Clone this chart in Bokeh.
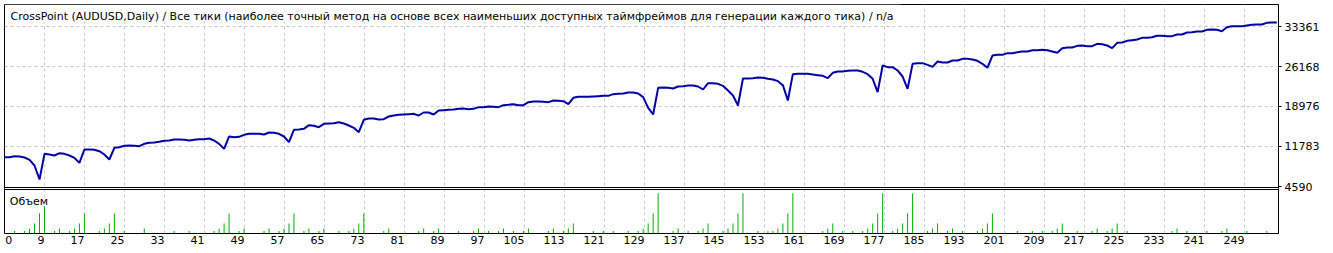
from bokeh.plotting import figure
from bokeh.models import Range1d, FixedTicker, Label, BoxAnnotation, CustomJSTickFormatter
from bokeh.embed import file_html
from bokeh.resources import INLINE

# ---------------- data ----------------
TITLE = ("CrossPoint (AUDUSD,Daily) / Все тики (наиболее точный метод на основе всех "
         "наименьших доступных таймфреймов для генерации каждого тика) / n/a")
VOLUME_TITLE = "Объем"

trade = list(range(1, 257))

balance = [
    9865, 9865, 10044, 9985, 9805, 9385, 8366, 5849, 10464, 10344,
    10164, 10584, 10464, 10164, 9745, 8846, 11243, 11243, 11183, 10944,
    10344, 9445, 11543, 11663, 11903, 11963, 11903, 11843, 12262, 12442,
    12502, 12622, 12802, 12862, 13041, 13041, 12981, 12862, 12981, 13101,
    13101, 13221, 12862, 12262, 11363, 13581, 13461, 13521, 13881, 14060,
    14060, 14060,
    13940, 14300, 14240, 14060, 13581, 12562, 14780, 14840, 14960, 15619,
    15499, 15259, 15859, 15919, 15979, 16158, 15919, 15559, 15139, 14360,
    16578, 16818, 16818, 16638, 16698, 17177, 17357, 17477, 17537, 17597,
    17657, 17357, 17897, 17897, 17537, 18256, 18316, 18376, 18436, 18556,
    18616, 18496, 18556, 18856, 18856, 18975, 18916, 18856, 19215, 19275,
    19395,
    19215, 19215, 19755, 19875, 19875, 19815, 19755, 20054, 19994, 19934,
    19395, 20534, 20714, 20714, 20714, 20774, 20834, 20894, 20894, 21193,
    21253, 21313, 21493, 21493, 21313, 20654, 18736, 17537, 22332, 22392,
    22332, 22212, 22572, 22632, 22752, 22752, 22572, 22032, 23171, 23171,
    23051, 22692, 21853, 20954, 19155, 24010, 24010, 24070, 24190, 24130,
    23950,
    23831, 23531, 22812, 20054, 24790, 24850, 24850, 24850, 24730, 24610,
    24490, 24070, 25030, 25269, 25269, 25389, 25449, 25449, 25209, 24790,
    23950, 21553, 26348, 26048, 26048, 25449, 24370, 22152, 26648, 26768,
    26768, 26468, 26108, 27067, 26888, 26888, 27247, 27247, 27547, 27547,
    27427, 27187, 26648, 25929, 28146, 28266, 28266, 28566, 28566, 28746,
    28866,
    28866, 29106, 29106, 29166, 29106, 28866, 28627, 29466, 29586, 29586,
    29885, 29945, 29825, 29825, 30245, 30185, 29945, 29466, 30425, 30485,
    30784, 30904, 31024, 31324, 31324, 31444, 31683, 31683, 31623, 31623,
    31923, 31923, 32283, 32343, 32463, 32463, 32762, 32822, 32762, 32523,
    33242, 33422, 33422, 33422, 33541, 33661, 33721, 33721, 34021, 34081,
    34081,
]

vol_trade = [
    3, 5, 6, 7, 8, 9, 11, 12, 14, 15, 16, 17, 20, 21, 22, 23, 25, 29, 35, 38,
    43, 44, 45, 46, 48, 49, 53, 54, 56, 57, 58, 59, 61, 62, 64, 65, 68, 70, 71, 72,
    73, 77, 78, 84, 85, 87, 88, 92, 95, 96, 98, 100, 101, 103, 105, 106, 110, 111, 113, 114,
    115, 119, 121, 123, 126, 128, 129, 130, 131, 132, 135, 136, 138, 140, 141, 142, 145, 146, 147, 148,
    149, 152, 154, 155, 156, 157, 158, 159, 165, 166, 167, 169, 171, 173, 174, 175, 176, 177, 179, 180,
    181, 182, 183, 186, 187, 188, 190, 191, 193, 196, 197, 198, 199, 204, 207, 209, 211, 212, 213, 216,
    219, 220, 222, 223, 224, 226, 235, 236, 238, 242, 245, 246, 250, 254,
]
vol_lots = [
    0.1, 0.1, 0.2, 0.4, 0.8, 1.07, 0.1, 0.2, 0.1, 0.2, 0.4, 0.8, 0.1, 0.2, 0.4, 0.8, 0.1, 0.2, 0.1, 0.1,
    0.1, 0.2, 0.4, 0.8, 0.1, 0.2, 0.1, 0.2, 0.1, 0.2, 0.4, 0.8, 0.1, 0.2, 0.1, 0.2, 0.1, 0.1, 0.2, 0.4,
    0.8, 0.1, 0.2, 0.1, 0.2, 0.1, 0.2, 0.1, 0.1, 0.2, 0.1, 0.1, 0.2, 0.1, 0.1, 0.2, 0.1, 0.2, 0.1, 0.2,
    0.4, 0.1, 0.1, 0.1, 0.1, 0.1, 0.2, 0.4, 0.8, 1.6, 0.1, 0.2, 0.1, 0.1, 0.2, 0.4, 0.1, 0.2, 0.4, 0.8,
    1.6, 0.1, 0.1, 0.1, 0.2, 0.4, 0.8, 1.6, 0.1, 0.2, 0.4, 0.1, 0.1, 0.1, 0.2, 0.4, 0.8, 1.6, 0.1, 0.2,
    0.4, 0.8, 1.6, 0.1, 0.2, 0.4, 0.1, 0.2, 0.1, 0.1, 0.2, 0.4, 0.8, 0.1, 0.1, 0.1, 0.1, 0.2, 0.4, 0.1,
    0.1, 0.2, 0.1, 0.2, 0.4, 0.1, 0.1, 0.2, 0.1, 0.1, 0.1, 0.2, 0.1, 0.1,
]

balance_ticks = [4590, 11783, 18976, 26168, 33361]
x_tick_labels = ["0", "9", "17", "25", "33", "41", "49", "57", "65", "73", "81",
                 "89", "97", "105", "113", "121", "129", "137", "145", "153", "161",
                 "169", "177", "185", "193", "201", "209", "217", "225", "233",
                 "241", "249"]

# ---------------- layout helpers (pixel geometry of the reference) ----------------
FONT = "DejaVu Sans"
PX_PER_TRADE = 4.989      # horizontal spacing of consecutive trades
TRADE9_PX = 44.0          # pixel column of trade 9 / first gridline
GRID_STEP_PX = 5.0        # gridlines: 40 px per 8 label units
VAL_PER_PX = 7192.75 / 40.0
BASE_PX = 186.0           # pixel row of the lowest balance tick
LOT_PX = 25.13            # pixels per lot in the volume pane
FRAME_TOP, FRAME_BOTTOM, FRAME_LEFT, FRAME_RIGHT = 4, 233, 4, 1278


def tx(px):
    return 9 + (px - TRADE9_PX) / PX_PER_TRADE


def by(py):
    return balance_ticks[0] + (BASE_PX - py) * VAL_PER_PX


p = figure(width=1333, height=253,
           x_range=Range1d(tx(FRAME_LEFT), tx(FRAME_RIGHT)),
           y_range=Range1d(by(FRAME_BOTTOM), by(FRAME_TOP)),
           y_axis_location="right", toolbar_location=None, output_backend="svg",
           min_border_left=FRAME_LEFT, min_border_right=1333 - FRAME_RIGHT,
           min_border_top=FRAME_TOP, min_border_bottom=253 - FRAME_BOTTOM)
p.extra_y_ranges = {"vol": Range1d(0, (FRAME_BOTTOM - FRAME_TOP) / LOT_PX)}
p.background_fill_color = "white"
p.border_fill_color = "white"
p.outline_line_color = "black"
p.outline_line_width = 1

# grids
grid_px = [TRADE9_PX + GRID_STEP_PX * (int(l) - 9) for l in x_tick_labels[1:]]
p.xgrid.ticker = FixedTicker(ticks=[tx(g) for g in grid_px])
p.ygrid.ticker = FixedTicker(ticks=balance_ticks[1:])
for g in (p.xgrid, p.ygrid):
    g.grid_line_color = "#C8C8C8"
    g.grid_line_dash = "3 3"
    g.grid_line_width = 1

# bottom axis: labels right-aligned against their gridline
label_px = [8.3] + [gp - 3.5 * len(l) for gp, l in zip(grid_px, x_tick_labels[1:])]
p.xaxis.ticker = FixedTicker(ticks=[tx(v) for v in label_px])
p.xaxis.formatter = CustomJSTickFormatter(args=dict(labels=x_tick_labels),
                                          code="return labels[index];")
p.xaxis.axis_line_color = None
p.xaxis.major_tick_line_color = None
p.xaxis.minor_tick_line_color = None
p.xaxis.major_tick_in = 0
p.xaxis.major_tick_out = 0
p.xaxis.major_label_standoff = 2
p.xaxis.major_label_text_font = FONT
p.xaxis.major_label_text_font_size = "11px"
p.xaxis.major_label_text_color = "black"

# right axis
p.yaxis.ticker = FixedTicker(ticks=balance_ticks)
p.yaxis.major_label_overrides = {t: str(t) for t in balance_ticks}
p.yaxis.axis_line_color = "black"
p.yaxis.major_tick_line_color = "black"
p.yaxis.major_tick_in = 0
p.yaxis.major_tick_out = 3
p.yaxis.minor_tick_line_color = None
p.yaxis.major_label_standoff = 3
p.yaxis.major_label_text_font = FONT
p.yaxis.major_label_text_font_size = "11px"
p.yaxis.major_label_text_color = "black"

# data
p.vbar(x=vol_trade, top=vol_lots, bottom=0, width=1.0 / PX_PER_TRADE,
       y_range_name="vol", fill_color="#00B000", line_color=None)
p.line(trade, balance, line_color="#0000A8", line_width=2)

# separator between balance pane and volume pane: black row, white row, black row
p.add_layout(BoxAnnotation(top=by(186.5), bottom=by(189.5), fill_color="black", fill_alpha=1.0,
                           line_color=None))
p.add_layout(BoxAnnotation(top=by(187.5), bottom=by(188.5), fill_color="white", fill_alpha=1.0,
                           line_color=None))

# title with white background
p.add_layout(BoxAnnotation(left=tx(4.5), right=tx(900), bottom=by(21.5), fill_color="white",
                           fill_alpha=1.0, line_color=None))
p.add_layout(Label(x=tx(10), y=by(16), text=TITLE, text_font=FONT, text_font_size="11px",
                   text_color="black", text_baseline="alphabetic", text_align="left"))
p.add_layout(Label(x=tx(9.3), y=(FRAME_BOTTOM - 201) / LOT_PX, y_range_name="vol",
                   text=VOLUME_TITLE, text_font=FONT, text_font_size="11px",
                   text_color="black", text_baseline="alphabetic", text_align="left"))

open("out.html", "w").write(file_html(p, INLINE))
